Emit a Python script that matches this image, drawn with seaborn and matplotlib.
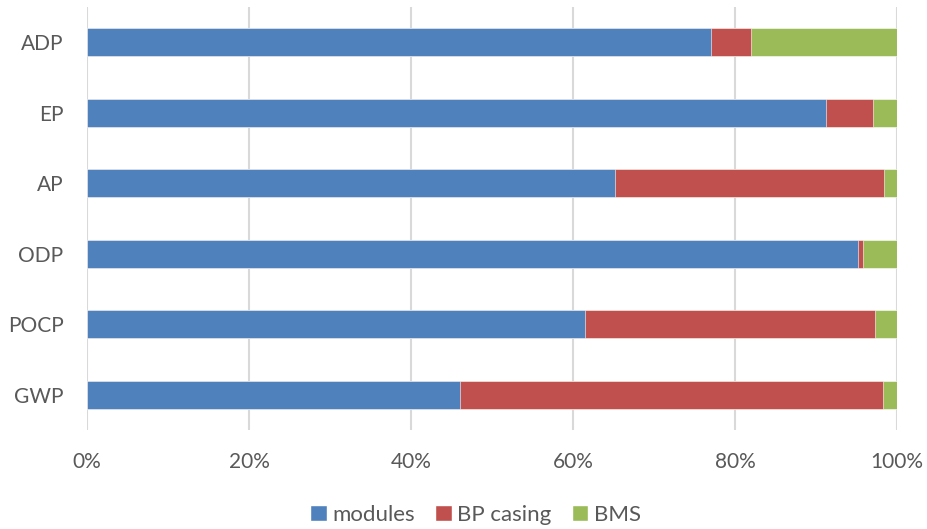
import numpy as np
import pandas as pd
import seaborn as sns
import matplotlib.pyplot as plt
from matplotlib.ticker import PercentFormatter
from matplotlib.patches import Patch

categories = ["ADP", "EP", "AP", "ODP", "POCP", "GWP"]
modules = [77.1, 91.2, 65.2, 95.2, 61.5, 46.1]
bp_casing = [4.9, 5.8, 33.2, 0.6, 35.8, 52.2]
bms = [18.0, 3.0, 1.6, 4.2, 2.7, 1.7]

series = ["modules", "BP casing", "BMS"]
colors = ["#4F81BD", "#C0504D", "#9BBB59"]

df = pd.DataFrame({"cat": categories, "modules": modules,
                   "BP casing": bp_casing, "BMS": bms})
# cumulative ends, drawn back to front so the stack shows
cum = df[series].cumsum(axis=1)

sns.set_style("white")
plt.rcParams['font.family'] = ['Lato', 'DejaVu Sans']

fig, ax = plt.subplots(figsize=(9.27, 5.29), dpi=100)
fig.subplots_adjust(left=0.0939, right=0.9676, top=0.9868, bottom=0.187)

for s, c in reversed(list(zip(series, colors))):
    sns.barplot(x=cum[s], y=df["cat"], order=categories, color=c, width=0.4,
                saturation=1, orient="h", ax=ax, edgecolor="white",
                linewidth=0.4, zorder=3)

ax.set_xlim(0, 100)
ax.set_xticks(np.arange(0, 101, 20))
ax.xaxis.set_major_formatter(PercentFormatter(100, decimals=0))
ax.grid(axis="x", color="#D9D9D9", linewidth=1.5, zorder=0)
ax.grid(axis="y", visible=False)
ax.set_xlabel("")
ax.set_ylabel("")
for sp in ax.spines.values():
    sp.set_visible(False)
ax.tick_params(axis="both", length=0, labelsize=15, colors="#595959")
ax.tick_params(axis="y", pad=17)
ax.tick_params(axis="x", pad=16)

handles = [Patch(facecolor=c, label=s) for s, c in zip(series, colors)]
fig.legend(handles=handles, loc="lower center", bbox_to_anchor=(0.513, -0.03), ncol=3,
           frameon=False, fontsize=16, labelcolor="#595959", handlelength=0.75,
           handleheight=0.75, handletextpad=0.25, columnspacing=0.9)

plt.savefig("out.png", dpi=100)
